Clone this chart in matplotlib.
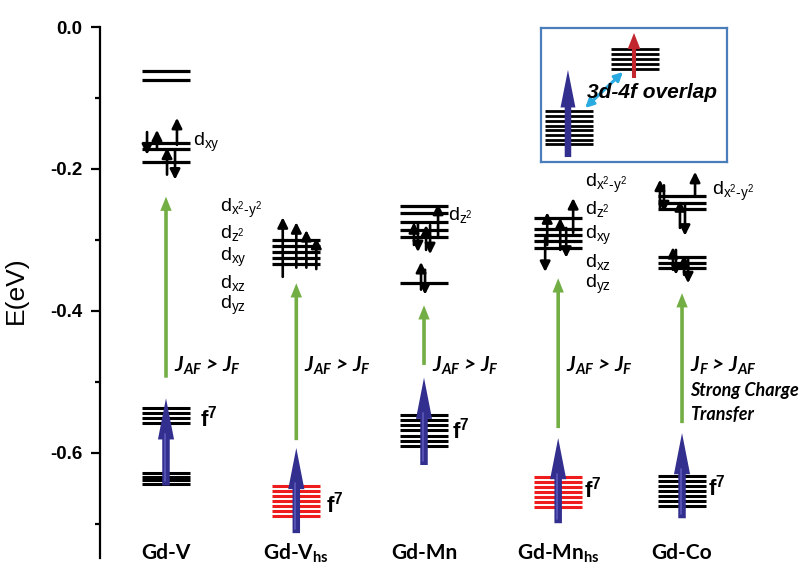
import matplotlib
matplotlib.use("Agg")
import matplotlib.pyplot as plt
from matplotlib.patches import FancyArrow

plt.rcParams['mathtext.fontset'] = 'custom'
plt.rcParams['mathtext.rm'] = 'Liberation Sans'
plt.rcParams['mathtext.it'] = 'Liberation Sans:italic'
plt.rcParams['mathtext.bf'] = 'Liberation Sans:bold'

# ---------------- data ----------------
compounds = ['Gd-V', r'Gd-V$_{\mathregular{hs}}$', 'Gd-Mn', r'Gd-Mn$_{\mathregular{hs}}$', 'Gd-Co']

# 3d levels (eV)
d_GdV = [-0.062, -0.075, -0.163, -0.172, -0.190]
d_GdVhs = [-0.300, -0.308, -0.317, -0.325, -0.334]
d_GdMn = [-0.252, -0.262, -0.275, -0.286, -0.296, -0.361]
d_GdMnhs = [-0.269, -0.285, -0.293, -0.301, -0.311]
d_GdCo = [-0.238, -0.248, -0.256, -0.324, -0.332, -0.339]

# 4f levels (eV)
f_GdV = [-0.537, -0.544, -0.551, -0.558, -0.628, -0.634, -0.638, -0.644]
f_GdVhs = [-0.647, -0.654, -0.661, -0.668, -0.675, -0.682, -0.689]
f_GdMn = [-0.547, -0.554, -0.561, -0.568, -0.576, -0.583, -0.590]
f_GdMnhs = [-0.634, -0.641, -0.648, -0.655, -0.662, -0.669, -0.676]
f_GdCo = [-0.632, -0.639, -0.647, -0.654, -0.661, -0.668, -0.675]

# spin arrows: (offset from column centre, E tail, E head)
spin_GdV = [(-0.147, -0.148, -0.180), (-0.070, -0.173, -0.145), (0.085, -0.166, -0.128),
            (0.008, -0.208, -0.170), (0.070, -0.173, -0.215)]
spin_GdVhs = [(-0.105, -0.352, -0.268), (0.0, -0.339, -0.275), (0.078, -0.339, -0.286),
              (0.155, -0.341, -0.297)]
spin_GdMn = [(-0.078, -0.307, -0.275), (-0.047, -0.275, -0.317), (0.016, -0.314, -0.279),
             (0.047, -0.279, -0.320), (0.109, -0.297, -0.249),
             (-0.023, -0.370, -0.331), (0.008, -0.342, -0.377)]
spin_GdMnhs = [(-0.085, -0.307, -0.261), (-0.101, -0.297, -0.345), (0.016, -0.314, -0.269),
               (0.062, -0.283, -0.325), (0.116, -0.290, -0.241)]
spin_GdCo = [(-0.171, -0.254, -0.215), (-0.140, -0.223, -0.261), (-0.016, -0.283, -0.244),
             (0.023, -0.251, -0.294), (0.101, -0.239, -0.204),
             (-0.070, -0.342, -0.310), (-0.047, -0.314, -0.349), (0.016, -0.349, -0.321),
             (0.047, -0.325, -0.361)]

# exchange (green) arrows and Gd moment (blue) arrows
green_from = [-0.494, -0.582, -0.476, -0.565, -0.558]
green_to = [-0.239, -0.361, -0.392, -0.354, -0.375]
blue_from = [-0.646, -0.713, -0.617, -0.699, -0.692]
blue_to = [-0.523, -0.593, -0.494, -0.579, -0.572]

coupling = [r'$\mathregular{J_{AF}}$ > $\mathregular{J_F}$'] * 4 + [r'$\mathregular{J_F}$ > $\mathregular{J_{AF}}$']
coupling_E = -0.478
extra_text = ['Strong Charge', 'Transfer']
extra_E = [-0.512, -0.546]

f_label_E = [-0.551, -0.673, -0.568, -0.652, -0.649]

DX2Y2 = r'd$_{\mathregular{x^2‐y^2}}$'
DZ2 = r'd$_{\mathregular{z^2}}$'
DXY = r'd$_{\mathregular{xy}}$'
DXZ = r'd$_{\mathregular{xz}}$'
DYZ = r'd$_{\mathregular{yz}}$'
# orbital labels: (column index, offset from centre, E, text)
orb_labels = [(0, 0.209, -0.163, DXY),
              (1, -0.591, -0.256, DX2Y2), (1, -0.591, -0.290, DZ2), (1, -0.591, -0.324, DXY),
              (1, -0.591, -0.361, DXZ), (1, -0.591, -0.392, DYZ),
              (2, 0.186, -0.265, DZ2),
              (3, 0.209, -0.221, DX2Y2), (3, 0.209, -0.256, DZ2), (3, 0.209, -0.293, DXY),
              (3, 0.209, -0.331, DXZ), (3, 0.209, -0.363, DYZ),
              (4, 0.233, -0.232, DX2Y2)]

# inset (own unit box)
inset_low = [0.381, 0.343, 0.306, 0.269, 0.239, 0.201, 0.164, 0.134]
inset_high = [0.843, 0.806, 0.769, 0.731, 0.694]

# ---------------- layout / style ----------------
x_pos = [1.0, 2.01, 3.0, 4.04, 5.0]
f_colors = ['black', '#ee1c1c', 'black', '#ee1c1c', 'black']
f_label_dx = [0.26, 0.23, 0.22, 0.20, 0.20]
HW = 0.186
BLUE = '#332f8f'
GREEN = '#72ae44'

d_levels = [d_GdV, d_GdVhs, d_GdMn, d_GdMnhs, d_GdCo]
f_levels = [f_GdV, f_GdVhs, f_GdMn, f_GdMnhs, f_GdCo]
spins = [spin_GdV, spin_GdVhs, spin_GdMn, spin_GdMnhs, spin_GdCo]

fig = plt.figure(figsize=(8.1, 5.66), dpi=100)
ax = fig.add_axes([100/810, 8/566, 710/810, 531/566])
ax.set_xlim(0.4884, 5.992)
ax.set_ylim(-0.748, 0.0)
for s in ['top', 'right', 'bottom']:
    ax.spines[s].set_visible(False)
ax.spines['left'].set_linewidth(1.6)
ax.set_xticks([])
ax.set_yticks([0.0, -0.2, -0.4, -0.6])
ax.set_yticklabels(['0.0', '-0.2', '-0.4', '-0.6'])
ax.set_yticks([-0.1, -0.3, -0.5, -0.7], minor=True)
ax.tick_params(axis='y', which='major', length=6.5, width=1.6, pad=6, labelsize=13.5)
ax.tick_params(axis='y', which='minor', length=3.5, width=1.6)
for lab in ax.get_yticklabels():
    lab.set_fontfamily('Liberation Sans')
    lab.set_fontweight('heavy')
ax.set_ylabel('E(eV)', fontsize=19, family='Liberation Sans')
ax.yaxis.set_label_coords(-0.102, 0.505)

for i, x in enumerate(x_pos):
    # d levels
    ax.hlines(d_levels[i], x - HW, x + HW, color='black', lw=2.3, zorder=2)
    # f levels
    ax.hlines(f_levels[i], x - HW, x + HW, color=f_colors[i], lw=2.2, zorder=2)
    # spins
    for dx, e0, e1 in spins[i]:
        ax.annotate('', xy=(x + dx, e1), xytext=(x + dx, e0),
                    arrowprops=dict(arrowstyle='-|>,head_length=0.6,head_width=0.3',
                                    color='black', lw=1.9, shrinkA=0, shrinkB=0), zorder=3)
    # green arrow
    ax.add_patch(FancyArrow(x, green_from[i], 0, green_to[i] - green_from[i], width=0.028,
                            head_width=0.088, head_length=0.02, length_includes_head=True,
                            color=GREEN, lw=0, zorder=3))
    # blue arrow
    ax.add_patch(FancyArrow(x, blue_from[i], 0, blue_to[i] - blue_from[i], width=0.058,
                            head_width=0.125, head_length=0.058, length_includes_head=True,
                            color=BLUE, lw=0, zorder=4))
    ax.plot([x - 0.010, x - 0.010], [blue_from[i] + 0.006, blue_to[i] - 0.05],
            color='#625ec2', lw=1.3, alpha=0.8, zorder=5, solid_capstyle='round')
    # f7 label
    ax.text(x + f_label_dx[i], f_label_E[i], r'f$^{\mathregular{7}}$', fontsize=16,
            fontweight='bold', family='Liberation Sans', ha='left', va='center', zorder=5)
    # coupling label
    ax.text(x + 0.06, coupling_E, coupling[i], fontsize=15, fontweight='bold',
            style='italic', family='Lato', ha='left', va='center')
    # compound label
    ax.text(x, -0.741, compounds[i], fontsize=15, fontweight='bold', family='Lato',
            ha='center', va='center')

for t, e in zip(extra_text, extra_E):
    ax.text(x_pos[4] + 0.062, e, t, fontsize=13, fontweight='bold', style='italic',
            family='Lato', ha='left', va='center')

for ci, dx, e, t in orb_labels:
    ax.text(x_pos[ci] + dx, e, t, fontsize=14, family='Liberation Sans',
            ha='left', va='center')

# ---------------- inset ----------------
ins = fig.add_axes([541/810, 1 - 162/566, 186/810, 134/566])
ins.set_xlim(0, 1)
ins.set_ylim(0, 1)
ins.set_xticks([])
ins.set_yticks([])
for s in ins.spines.values():
    s.set_color('#4a7ebb')
    s.set_linewidth(1.6)
ins.hlines(inset_low, 0.022, 0.280, color='black', lw=2.0)
ins.hlines(inset_high, 0.376, 0.634, color='black', lw=2.0)
ins.add_patch(FancyArrow(0.145, 0.037, 0, 0.65, width=0.035, head_width=0.08,
                         head_length=0.28, length_includes_head=True, color=BLUE, lw=0, zorder=4))
ins.add_patch(FancyArrow(0.500, 0.627, 0, 0.336, width=0.022, head_width=0.068,
                         head_length=0.12, length_includes_head=True, color='#c1272d', lw=0, zorder=4))
ins.annotate('', xy=(0.441, 0.672), xytext=(0.237, 0.403),
             arrowprops=dict(arrowstyle='<|-|>,head_length=0.5,head_width=0.25',
                             color='#29abe2', lw=2.2, shrinkA=0, shrinkB=0))
ins.text(0.247, 0.515, '3d-4f overlap', fontsize=15, fontweight='bold', style='italic',
         family='Liberation Sans', ha='left', va='center')

fig.savefig('out.png', dpi=100)
